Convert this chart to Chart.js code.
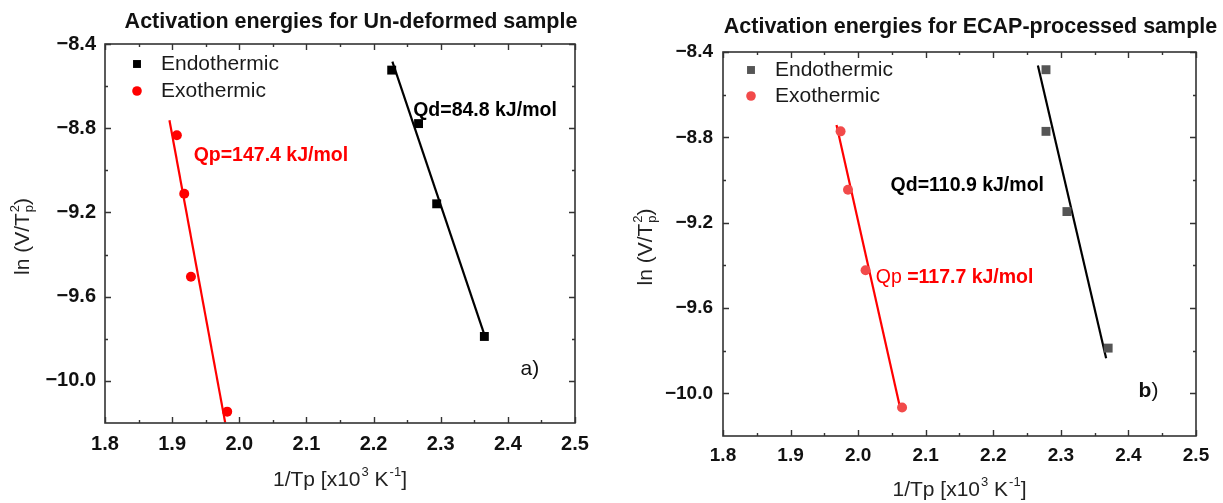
<!DOCTYPE html>
<html><head><meta charset="utf-8">
<script src="https://cdn.jsdelivr.net/npm/chart.js@4/dist/chart.umd.min.js"></script>
<style>
html,body{margin:0;padding:0;background:#fff;}
#wrap{position:relative;width:1223px;height:503px;overflow:hidden;background:#fff;}
.pane{position:absolute;top:0;height:503px;}
canvas{display:block;}
</style></head><body>
<div id="wrap">
<div class="pane" style="left:0;width:610px"><canvas id="ca" width="610" height="503"></canvas></div>
<div class="pane" style="left:610px;width:613px"><canvas id="cb" width="613" height="503"></canvas></div>
</div>
<script>
// ---- tick values ----
const xTicks = [1.8, 1.9, 2.0, 2.1, 2.2, 2.3, 2.4, 2.5];
const xMinorTicks = [1.85, 1.95, 2.05, 2.15, 2.25, 2.35, 2.45];
const yTicks = [-10.0, -9.6, -9.2, -8.8, -8.4];
const yMinorTicks = [-9.8, -9.4, -9.0, -8.6];

// ---- panel a) Un-deformed ----
const endoXa = [2.227, 2.267, 2.294, 2.365];
const endoYa = [-8.524, -8.778, -9.159, -9.789];
const exoXa = [1.907, 1.918, 1.928, 1.982];
const exoYa = [-8.833, -9.111, -9.505, -10.146];
const endoFitXa = [2.228, 2.366];
const endoFitYa = [-8.484, -9.790];
const exoFitXa = [1.896, 1.979];
const exoFitYa = [-8.762, -10.198];

// ---- panel b) ECAP-processed ----
const endoXb = [2.278, 2.278, 2.309, 2.370];
const endoYb = [-8.483, -8.772, -9.148, -9.788];
const exoXb = [1.974, 1.985, 2.011, 2.065];
const exoYb = [-8.772, -9.046, -9.423, -10.066];
const endoFitXb = [2.266, 2.367];
const endoFitYb = [-8.463, -9.835];
const exoFitXb = [1.968, 2.062];
const exoFitYb = [-8.742, -10.066];

const seriesNames = ['Endothermic', 'Exothermic'];
const titleA = 'Activation energies for Un-deformed sample';
const titleB = 'Activation energies for ECAP-processed sample';

const FONT = '"Liberation Sans", Arial, Helvetica, sans-serif';
const zip = (xs, ys) => xs.map((x, i) => ({x: x, y: ys[i]}));

function richWidth(ctx, segs, size) {
  let w = 0;
  segs.forEach(s => {
    if (s.t !== undefined) { ctx.font = (s.bold ? 'bold ' : '') + size + 'px ' + FONT; w += ctx.measureText(s.t).width; }
    else {
      ctx.font = Math.round(size * 0.62) + 'px ' + FONT;
      w += Math.max(s.sub ? ctx.measureText(s.sub).width : 0, s.sup ? ctx.measureText(s.sup).width : 0) + 1;
    }
  });
  return w;
}
function drawRich(ctx, segs, x, y, size, color) {
  ctx.fillStyle = color;
  ctx.textBaseline = 'middle';
  ctx.textAlign = 'left';
  let cx = x;
  segs.forEach(s => {
    if (s.t !== undefined) {
      ctx.font = (s.bold ? 'bold ' : '') + size + 'px ' + FONT;
      ctx.fillText(s.t, cx, y);
      cx += ctx.measureText(s.t).width;
    } else {
      const ss = Math.round(size * 0.62);
      ctx.font = ss + 'px ' + FONT;
      let w = 0;
      if (s.sup) { ctx.fillText(s.sup, cx + 1, y - size * 0.38); w = Math.max(w, ctx.measureText(s.sup).width); }
      if (s.sub) { ctx.fillText(s.sub, cx + 1, y + size * 0.3); w = Math.max(w, ctx.measureText(s.sub).width); }
      cx += w + 1;
    }
  });
}

const decorPlugin = {
  id: 'decor',
  afterDraw(chart, args, o) {
    const ctx = chart.ctx;
    const ca = chart.chartArea;
    const xs = chart.scales.x, ys = chart.scales.y;
    ctx.save();
    ctx.strokeStyle = '#333';
    ctx.lineWidth = 1.6;
    ctx.strokeRect(ca.left, ca.top, ca.right - ca.left, ca.bottom - ca.top);
    ctx.lineWidth = 1.4;
    ctx.beginPath();
    const tx = (v, len) => { const p = Math.round(xs.getPixelForValue(v)) + 0.5;
      ctx.moveTo(p, ca.bottom); ctx.lineTo(p, ca.bottom - len);
      ctx.moveTo(p, ca.top); ctx.lineTo(p, ca.top + len); };
    const ty = (v, len) => { const p = Math.round(ys.getPixelForValue(v)) + 0.5;
      ctx.moveTo(ca.left, p); ctx.lineTo(ca.left + len, p);
      ctx.moveTo(ca.right, p); ctx.lineTo(ca.right - len, p); };
    xTicks.forEach(v => tx(v, 6)); xMinorTicks.forEach(v => tx(v, 3));
    yTicks.forEach(v => ty(v, 6)); yMinorTicks.forEach(v => ty(v, 3));
    ctx.stroke();

    ctx.fillStyle = '#111';
    ctx.font = 'bold 21.5px ' + FONT;
    ctx.textAlign = 'center'; ctx.textBaseline = 'middle';
    ctx.fillText(o.title, (ca.left + ca.right) / 2 + 11, o.titleY);

    const xt = [{t: '1/Tp [x10'}, {sup: '3'}, {t: ' K'}, {sup: '-1'}, {t: ']'}];
    const xw = richWidth(ctx, xt, 21);
    drawRich(ctx, xt, (ca.left + ca.right) / 2 - xw / 2, o.xTitleY, 21, '#222');
    const yt = [{t: 'ln (V/T'}, {sub: 'p', sup: '2'}, {t: ')'}];
    const yw = richWidth(ctx, yt, 21);
    ctx.save();
    ctx.translate(o.yTitleX, (ca.top + ca.bottom) / 2 + 3);
    ctx.rotate(-Math.PI / 2);
    drawRich(ctx, yt, -yw / 2, 0, 21, '#222');
    ctx.restore();

    chart.data.datasets.forEach((ds, i) => {
      if (!ds.inLegend) return;
      const my = ca.top + o.legendY[i];
      const mx = ca.left + o.legendX;
      ctx.fillStyle = ds.backgroundColor;
      ctx.strokeStyle = ds.backgroundColor;
      Chart.helpers.drawPoint(ctx, {pointStyle: ds.pointStyle, radius: ds.legendRadius, rotation: 0, borderWidth: 0}, mx, my);
      ctx.fillStyle = '#1a1a1a';
      ctx.font = '21px ' + FONT;
      ctx.textAlign = 'left'; ctx.textBaseline = 'middle';
      ctx.fillText(ds.label, mx + 24, my);
    });

    o.notes.forEach(n => {
      drawRich(ctx, n.segs, xs.getPixelForValue(n.x), ys.getPixelForValue(n.y), n.size, n.color);
    });
    ctx.restore();
  }
};

function makePanel(id, cfg) {
  const scaleTickFont = {family: FONT, size: cfg.tickSize, weight: 'bold'};
  const fmt = v => (v < 0 ? '\u2212' : '') + Math.abs(v).toFixed(1);
  return new Chart(document.getElementById(id), {
    type: 'scatter',
    data: {
      datasets: [
        {label: seriesNames[0], inLegend: true, data: zip(cfg.endoX, cfg.endoY), pointStyle: 'rect', pointRadius: 6.3, pointHoverRadius: 6.3, legendRadius: 5.6,
         backgroundColor: cfg.endoColor, borderColor: cfg.endoColor, borderWidth: 0, showLine: false},
        {label: seriesNames[1], inLegend: true, data: zip(cfg.exoX, cfg.exoY), pointStyle: 'circle', pointRadius: 5, pointHoverRadius: 5, legendRadius: 4.8,
         backgroundColor: cfg.exoColor, borderColor: cfg.exoColor, borderWidth: 0, showLine: false},
        {label: 'fit1', data: zip(cfg.endoFitX, cfg.endoFitY), showLine: true, pointRadius: 0, borderColor: '#000', borderWidth: 2.2, backgroundColor: '#000'},
        {label: 'fit2', data: zip(cfg.exoFitX, cfg.exoFitY), showLine: true, pointRadius: 0, borderColor: '#ff0000', borderWidth: 2.2, backgroundColor: '#ff0000'}
      ]
    },
    options: {
      responsive: false,
      animation: false,
      events: [],
      layout: {padding: {left: 0, right: cfg.padRight, top: cfg.top, bottom: 0}},
      plugins: {
        legend: {display: false},
        tooltip: {enabled: false},
        title: {display: false},
        decor: cfg.decor
      },
      scales: {
        x: {
          type: 'linear', min: 1.8, max: 2.5,
          grid: {display: false, drawTicks: false},
          border: {display: false},
          afterBuildTicks: s => { s.ticks = xTicks.map(v => ({value: v})); },
          afterFit: s => { s.height = cfg.xAxisH; },
          ticks: {font: scaleTickFont, color: '#111', padding: cfg.xPad, callback: v => v.toFixed(1), maxRotation: 0, autoSkip: false}
        },
        y: {
          type: 'linear', min: -10.2, max: -8.4,
          grid: {display: false, drawTicks: false},
          border: {display: false},
          afterBuildTicks: s => { s.ticks = yTicks.map(v => ({value: v})); },
          afterFit: s => { s.width = cfg.yAxisW; },
          ticks: {font: scaleTickFont, color: '#111', padding: cfg.yPad, callback: fmt, autoSkip: false}
        }
      }
    },
    plugins: [decorPlugin]
  });
}

makePanel('ca', {
  endoX: endoXa, endoY: endoYa, exoX: exoXa, exoY: exoYa,
  endoFitX: endoFitXa, endoFitY: endoFitYa, exoFitX: exoFitXa, exoFitY: exoFitYa,
  endoColor: '#000000', exoColor: '#ff0000',
  top: 44, padRight: 35, xAxisH: 80, yAxisW: 105, tickSize: 20, xPad: 9, yPad: 9,
  decor: {
    title: titleA, titleY: 22, xTitleY: 480, yTitleX: 23,
    legendX: 32, legendY: [20, 47],
    notes: [
      {x: 2.259, y: -8.717, size: 19.5, color: '#000', segs: [{t: 'Qd=84.8 kJ/mol', bold: true}]},
      {x: 1.932, y: -8.929, size: 19.5, color: '#ff0000', segs: [{t: 'Qp=147.4 kJ/mol', bold: true}]},
      {x: 2.419, y: -9.944, size: 21, color: '#111', segs: [{t: 'a)'}]}
    ]
  }
});

makePanel('cb', {
  endoX: endoXb, endoY: endoYb, exoX: exoXb, exoY: exoYb,
  endoFitX: endoFitXb, endoFitY: endoFitYb, exoFitX: exoFitXb, exoFitY: exoFitYb,
  endoColor: '#555555', exoColor: '#f24a4a',
  top: 52, padRight: 27, xAxisH: 67, yAxisW: 113, tickSize: 19, xPad: 8, yPad: 10,
  decor: {
    title: titleB, titleY: 27, xTitleY: 490, yTitleX: 36,
    legendX: 28, legendY: [18, 44],
    notes: [
      {x: 2.048, y: -9.025, size: 19.5, color: '#000', segs: [{t: 'Qd=110.9 kJ/mol', bold: true}]},
      {x: 2.026, y: -9.457, size: 19.5, color: '#ff0000', segs: [{t: 'Qp '}, {t: '=117.7 kJ/mol', bold: true}]},
      {x: 2.415, y: -9.992, size: 21, color: '#111', segs: [{t: 'b', bold: true}, {t: ')'}]}
    ]
  }
});
</script>
</body></html>
